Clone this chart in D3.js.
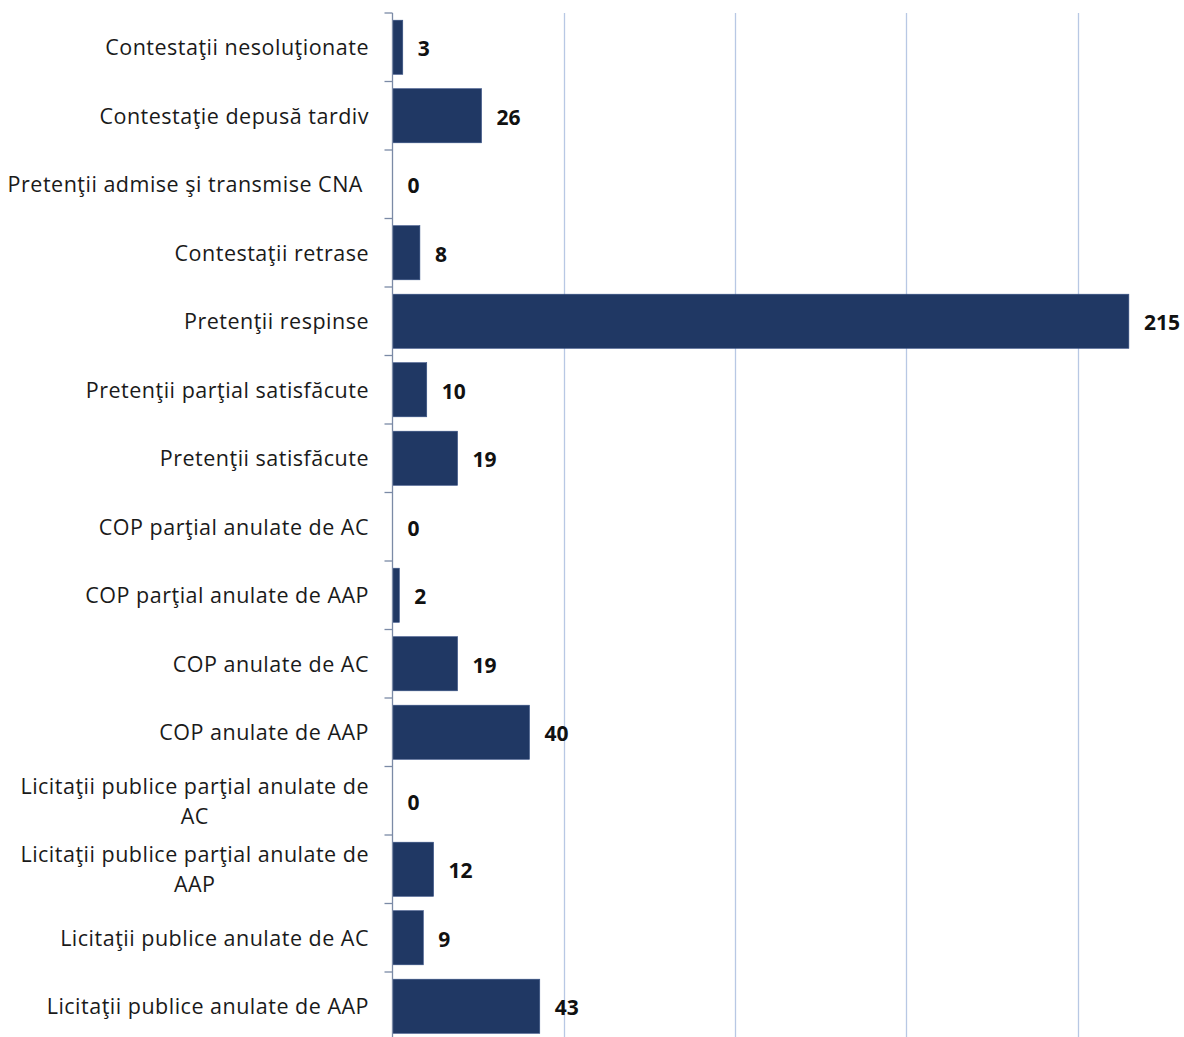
<!DOCTYPE html>
<html><head><meta charset="utf-8">
<script src="https://cdn.jsdelivr.net/npm/d3@7/dist/d3.min.js"></script>
<style>html,body{margin:0;padding:0;background:#fff}svg{display:block}</style>
</head><body>
<svg id="c" width="1184" height="1037"></svg>
<script>
const categories = [
  "Contestaţii nesoluţionate",
  "Contestaţie depusă tardiv",
  "Pretenţii admise şi transmise CNA ",
  "Contestaţii retrase",
  "Pretenţii respinse",
  "Pretenţii parţial satisfăcute",
  "Pretenţii satisfăcute",
  "COP parţial anulate de AC",
  "COP parţial anulate de AAP",
  "COP anulate de AC",
  "COP anulate de AAP",
  "Licitaţii publice parţial anulate de AC",
  "Licitaţii publice parţial anulate de AAP",
  "Licitaţii publice anulate de AC",
  "Licitaţii publice anulate de AAP"
];
const values = [3, 26, 0, 8, 215, 10, 19, 0, 2, 19, 40, 0, 12, 9, 43];
const gridTicks = [50, 100, 150, 200, 250];
const wrapAt = { "Licitaţii publice parţial anulate de AC": ["Licitaţii publice parţial anulate de", "AC"],
                 "Licitaţii publice parţial anulate de AAP": ["Licitaţii publice parţial anulate de", "AAP"] };

const svg = d3.select("#c");
const x0 = 392.5, plotTop = 13, step = 68.5;
const x = d3.scaleLinear().domain([0, 250]).range([x0, x0 + 250 * 3.425]);
const y = d3.scaleBand().domain(categories).range([plotTop, plotTop + step * categories.length]).paddingInner(0.21).paddingOuter(0.105);

const font = "'Open Sans', Lato, sans-serif";

// gridlines
svg.append("g").selectAll("line").data(gridTicks).join("line")
  .attr("x1", d => Math.round(x(d)) + 0.5).attr("x2", d => Math.round(x(d)) + 0.5)
  .attr("y1", plotTop).attr("y2", plotTop + step * categories.length)
  .attr("stroke", "#b8c8e4").attr("stroke-width", 1.3);

// bars
svg.append("g").selectAll("rect").data(values).join("rect")
  .attr("x", x0).attr("y", (d, i) => y(categories[i]))
  .attr("width", d => x(d) - x0).attr("height", y.bandwidth())
  .attr("fill", "#203864").attr("stroke", "#3a5486").attr("stroke-width", 0.6);

// y axis line + ticks at band boundaries
const ax = svg.append("g");
ax.append("line").attr("x1", x0).attr("x2", x0).attr("y1", plotTop).attr("y2", plotTop + step * categories.length)
  .attr("stroke", "#7b8aa6").attr("stroke-width", 1.3);
ax.selectAll("line.t").data(d3.range(categories.length + 1)).join("line").attr("class", "t")
  .attr("x1", x0 - 8).attr("x2", x0)
  .attr("y1", i => plotTop + i * step).attr("y2", i => plotTop + i * step)
  .attr("stroke", "#7b8aa6").attr("stroke-width", 1.3);

// category labels
const lab = svg.append("g").attr("font-family", font).attr("font-size", 21.5).attr("fill", "#1a1a1a")
  .style("letter-spacing", "0.5px");
categories.forEach((c, i) => {
  const cy = y(c) + y.bandwidth() / 2;
  if (wrapAt[c]) {
    const lines = wrapAt[c];
    const t = lab.append("text").attr("text-anchor", "end").attr("x", 369).attr("y", cy - 15 + 8).text(lines[0]);
    const w = t.node().getComputedTextLength();
    lab.append("text").attr("text-anchor", "middle").attr("x", 369 - w / 2).attr("y", cy + 15 + 8).text(lines[1]);
  } else {
    lab.append("text").attr("text-anchor", "end").attr("x", 369).attr("y", cy + 8)
      .style("white-space", "pre").text(c);
  }
});

// value labels
svg.append("g").attr("font-family", font).attr("font-size", 21).attr("font-weight", "bold").attr("fill", "#111")
  .selectAll("text").data(values).join("text")
  .attr("x", d => x(d) + 15).attr("y", (d, i) => y(categories[i]) + y.bandwidth() / 2 + 9)
  .text(d => d);
</script>
</body></html>
